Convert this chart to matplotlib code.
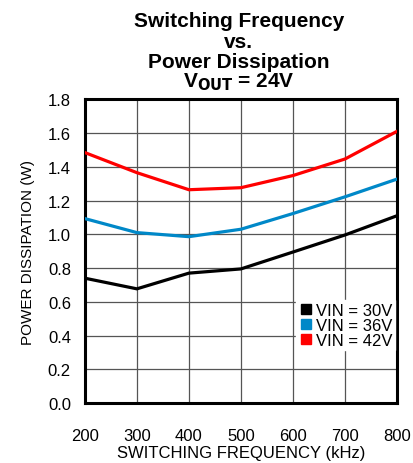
import matplotlib
matplotlib.use("Agg")
import matplotlib.pyplot as plt
from matplotlib.lines import Line2D

plt.rcParams['font.family'] = ['Liberation Sans', 'DejaVu Sans']

freq = [200, 300, 400, 500, 600, 700, 800]
vin30 = [0.74, 0.677, 0.77, 0.795, 0.895, 0.996, 1.11]
vin36 = [1.093, 1.01, 0.986, 1.03, 1.123, 1.222, 1.327]
vin42 = [1.484, 1.365, 1.264, 1.276, 1.348, 1.446, 1.61]
series = [("VIN = 30V", vin30, "#000000"),
          ("VIN = 36V", vin36, "#0088C8"),
          ("VIN = 42V", vin42, "#FF0000")]
xticks = [200, 300, 400, 500, 600, 700, 800]
yticks = [0.0, 0.2, 0.4, 0.6, 0.8, 1.0, 1.2, 1.4, 1.6, 1.8]

fig = plt.figure(figsize=(4.14, 4.64), dpi=100)
ax = fig.add_axes([0.205, 0.129, 0.754, 0.655])

for label, vals, col in series:
    ax.plot(freq, vals, color=col, lw=2.3, solid_joinstyle='miter', zorder=3)

ax.set_xlim(200, 800)
ax.set_ylim(0, 1.8)
ax.set_xticks(xticks)
ax.set_yticks(yticks)
ax.set_yticklabels([f"{v:.1f}" for v in yticks])
ax.grid(True, color="#555555", lw=0.9)
ax.tick_params(axis='x', length=0, pad=18, labelsize=12)
ax.tick_params(axis='y', length=0, pad=10, labelsize=12)
for s in ax.spines.values():
    s.set_linewidth(2.2)

ax.set_xlabel("SWITCHING FREQUENCY (kHz)", fontsize=12, labelpad=1.5)
ax.set_ylabel("POWER DISSIPATION (W)", fontsize=11, labelpad=9)

handles = [Line2D([], [], marker='s', ls='none', color=c, markersize=7) for _, _, c in series]
leg = ax.legend(handles, [s[0] for s in series], loc='lower right',
                bbox_to_anchor=(1.0, 0.165), frameon=True, fontsize=12,
                handletextpad=0.15, borderpad=0.15, labelspacing=0.0,
                handlelength=0.9, fancybox=False, borderaxespad=0.15)
leg.get_frame().set_edgecolor('white')
leg.get_frame().set_facecolor('white')
leg.get_frame().set_alpha(1.0)

fig.text(0.577, 0.953, "Switching Frequency", ha='center', va='center', fontsize=15, fontweight='bold')
fig.text(0.577, 0.909, "vs.", ha='center', va='center', fontsize=15, fontweight='bold')
fig.text(0.577, 0.866, "Power Dissipation", ha='center', va='center', fontsize=15, fontweight='bold')
fig.text(0.577, 0.823, r"V$_{\mathbf{OUT}}$ = 24V", ha='center', va='center', fontsize=15, fontweight='bold')

fig.savefig("out.png", dpi=100)
